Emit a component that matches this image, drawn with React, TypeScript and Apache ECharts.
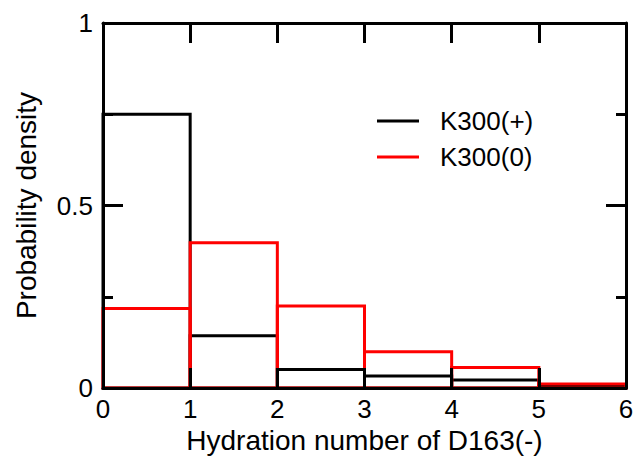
import React, { useEffect, useRef } from "react";
import * as echarts from "echarts";

const binStarts = [0, 1, 2, 3, 4, 5];
const binWidth = 1;
const k300Plus = [0.75, 0.143, 0.051, 0.033, 0.022, 0.008];
const k300Zero = [0.218, 0.398, 0.225, 0.099, 0.056, 0.011];
const seriesNames = ["K300(+)", "K300(0)"];
const seriesColors = ["#000000", "#ff0000"];
const xTitle = "Hydration number of D163(-)";
const yTitle = "Probability density";

const FONT = "'Liberation Sans', Arial, Helvetica, sans-serif";

function histSeries(name: string, values: number[], color: string) {
  return {
    name,
    type: "custom",
    xAxisIndex: 0,
    yAxisIndex: 0,
    itemStyle: { color },
    data: binStarts.map((s, i) => [s, s + binWidth, values[i]]),
    encode: { x: [0, 1], y: 2 },
    renderItem: (params: any, api: any) => {
      const x0 = api.value(0);
      const x1 = api.value(1);
      const v = api.value(2);
      const p0 = api.coord([x0, 0]);
      const p1 = api.coord([x1, v]);
      return {
        type: "rect",
        shape: {
          x: p0[0],
          y: p1[1],
          width: p1[0] - p0[0],
          height: p0[1] - p1[1],
        },
        style: { fill: "none", stroke: color, lineWidth: 3 },
      };
    },
  };
}

export default function App() {
  const ref = useRef<HTMLDivElement>(null);
  useEffect(() => {
    if (!ref.current) return;
    const chart = echarts.init(ref.current, undefined, { renderer: "svg" });
    const axisLine = { show: true, onZero: false, lineStyle: { color: "#000", width: 3 } };
    const tick = { show: true, inside: true, length: 20, lineStyle: { color: "#000", width: 3 } };
    const xCommon = {
      type: "value",
      min: 0,
      max: 6,
      interval: 1,
      z: 10,
      axisLine,
      axisTick: tick,
      splitLine: { show: false },
    };
    const yCommon = {
      type: "value",
      min: 0,
      max: 1,
      interval: 0.5,
      z: 10,
      axisLine,
      axisTick: tick,
      minorTick: { show: true, splitNumber: 2, length: 10, lineStyle: { color: "#000", width: 3 } },
      splitLine: { show: false },
      minorSplitLine: { show: false },
    };
    chart.setOption({
      animation: false,
      backgroundColor: "#fff",
      grid: { left: 103, right: 10, top: 23, bottom: 70, containLabel: false, outerBoundsMode: "none" },
      legend: {
        orient: "vertical",
        left: 377,
        top: 108,
        padding: 0,
        itemWidth: 42,
        itemHeight: 3,
        itemGap: 10,
        icon: "rect",
        data: seriesNames,
        textStyle: { fontFamily: FONT, fontSize: 26, color: "#000", padding: [0, 0, 0, 16] },
      },
      xAxis: [
        {
          ...xCommon,
          position: "bottom",
          name: xTitle,
          nameLocation: "middle",
          nameGap: 37,
          nameTextStyle: { fontFamily: FONT, fontSize: 28, color: "#000" },
          axisLabel: { show: true, margin: 8, fontFamily: FONT, fontSize: 26, color: "#000" },
        },
        {
          ...xCommon,
          position: "top",
          axisLabel: { show: false },
        },
      ],
      yAxis: [
        {
          ...yCommon,
          position: "left",
          name: yTitle,
          nameLocation: "middle",
          nameGap: 63,
          nameTextStyle: { fontFamily: FONT, fontSize: 28, color: "#000" },
          axisLabel: { show: true, margin: 10, fontFamily: FONT, fontSize: 26, color: "#000" },
        },
        {
          ...yCommon,
          position: "right",
          axisLabel: { show: false },
        },
      ],
      series: [
        histSeries(seriesNames[0], k300Plus, seriesColors[0]),
        histSeries(seriesNames[1], k300Zero, seriesColors[1]),
      ],
    });
    return () => chart.dispose();
  }, []);
  return <div ref={ref} style={{ width: 636, height: 458, position: "absolute", left: 0, top: 0 }} />;
}
